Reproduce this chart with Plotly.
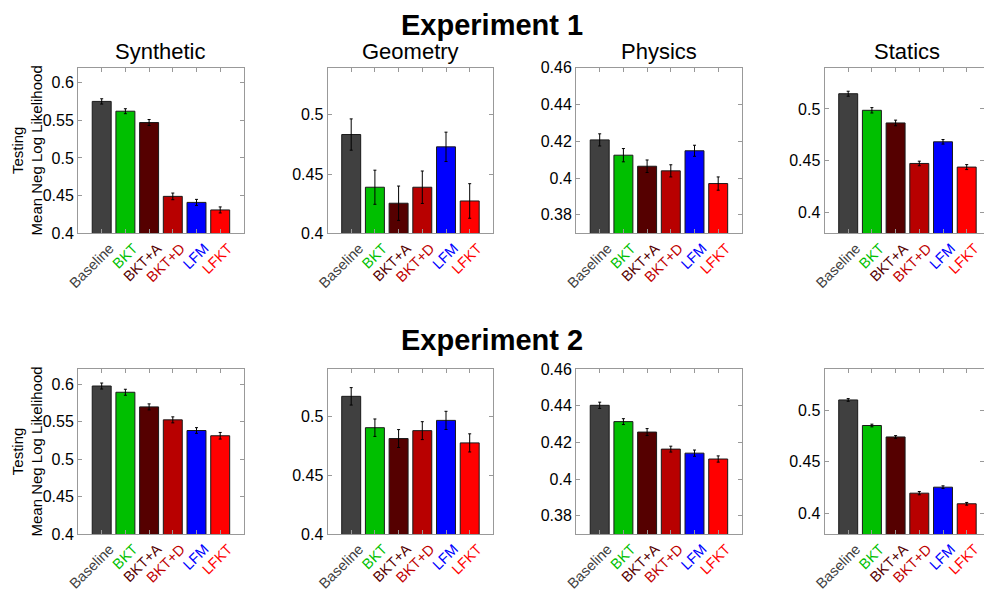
import plotly.graph_objects as go

categories = ["Baseline", "BKT", "BKT+A", "BKT+D", "LFM", "LFKT"]
bar_colors = ["#404040", "#00BF00", "#550000", "#B80000", "#0000FF", "#FF0000"]
label_colors = ["#404040", "#00BF00", "#550000", "#C00000", "#0000FF", "#FF0000"]

panel_names = ["Synthetic", "Geometry", "Physics", "Statics"]

exp1_synthetic = [0.575, 0.562, 0.547, 0.449, 0.441, 0.431]
exp1_synthetic_err = [0.0035, 0.0033, 0.004, 0.0044, 0.004, 0.004]
exp1_geometry = [0.4834, 0.4389, 0.4254, 0.4389, 0.473, 0.4273]
exp1_geometry_err = [0.0132, 0.0144, 0.0145, 0.0137, 0.0124, 0.0146]
exp1_physics = [0.4207, 0.4124, 0.4064, 0.4039, 0.4148, 0.397]
exp1_physics_err = [0.0033, 0.0036, 0.0034, 0.0033, 0.003, 0.0036]
exp1_statics = [0.5147, 0.4987, 0.4865, 0.4474, 0.4683, 0.4439]
exp1_statics_err = [0.0024, 0.0026, 0.0027, 0.0022, 0.0022, 0.0024]

exp2_synthetic = [0.5973, 0.589, 0.5695, 0.5522, 0.538, 0.531]
exp2_synthetic_err = [0.004, 0.004, 0.004, 0.004, 0.0038, 0.0044]
exp2_geometry = [0.5168, 0.4902, 0.481, 0.4877, 0.4964, 0.4773]
exp2_geometry_err = [0.0074, 0.0074, 0.0076, 0.0076, 0.0077, 0.0077]
exp2_physics = [0.4402, 0.4313, 0.4256, 0.4163, 0.4141, 0.4109]
exp2_physics_err = [0.0017, 0.0016, 0.0019, 0.0016, 0.0017, 0.0017]
exp2_statics = [0.51, 0.4852, 0.4741, 0.4196, 0.4254, 0.4093]
exp2_statics_err = [0.0013, 0.0013, 0.0013, 0.0016, 0.0013, 0.0013]

y_ranges = [[0.4, 0.62], [0.4, 0.54], [0.37, 0.46], [0.38, 0.54]]
y_tickvals = [
    [0.4, 0.45, 0.5, 0.55, 0.6],
    [0.4, 0.45, 0.5],
    [0.38, 0.4, 0.42, 0.44, 0.46],
    [0.4, 0.45, 0.5],
]
y_ticktext = [
    ["0.4", "0.45", "0.5", "0.55", "0.6"],
    ["0.4", "0.45", "0.5"],
    ["0.38", "0.4", "0.42", "0.44", "0.46"],
    ["0.4", "0.45", "0.5"],
]
exp_titles = ["Experiment 1", "Experiment 2"]

rows = [
    [(exp1_synthetic, exp1_synthetic_err), (exp1_geometry, exp1_geometry_err),
     (exp1_physics, exp1_physics_err), (exp1_statics, exp1_statics_err)],
    [(exp2_synthetic, exp2_synthetic_err), (exp2_geometry, exp2_geometry_err),
     (exp2_physics, exp2_physics_err), (exp2_statics, exp2_statics_err)],
]

W, H = 984, 591
FONT = "Arial, Liberation Sans, sans-serif"
cat_w = 23.7
panel_left = [78, 327.5, 576, 824.5]
row_top = [67.5, 369]
row_bot = [233.3, 534]

fig = go.Figure()
layout = {}
annotations = []
ticktext_x = ["<span style='color:%s'>%s</span>" % (c, t) for c, t in zip(label_colors, categories)]

idx = 0
for r in range(2):
    for c in range(4):
        idx += 1
        vals, errs = rows[r][c]
        xa = "x" if idx == 1 else "x%d" % idx
        ya = "y" if idx == 1 else "y%d" % idx
        fig.add_trace(go.Bar(
            x=categories, y=vals, xaxis=xa, yaxis=ya,
            marker=dict(color=bar_colors, line=dict(color="#1a1a1a", width=1)),
            width=0.8,
            error_y=dict(type="data", array=errs, color="black", thickness=1, width=1.5),
            showlegend=False,
        ))
        left = panel_left[c]
        right = left + 7 * cat_w
        xmax = 6.0
        if right > W:
            xmax = -1 + (W - left) / cat_w
            right = W
        xdom = [left / W, right / W]
        ydom = [1 - row_bot[r] / H, 1 - row_top[r] / H]
        layout["xaxis" if idx == 1 else "xaxis%d" % idx] = dict(
            domain=xdom, anchor=ya, type="category", range=[-1, xmax],
            tickvals=categories, ticktext=ticktext_x, tickangle=-45,
            ticklabelshift=8,
            ticks="inside", ticklen=4, tickcolor="#999", showline=True,
            linecolor="#999", linewidth=1, mirror="ticks", showgrid=False,
            tickfont=dict(family=FONT, size=14.5), zeroline=False, automargin=False,
        )
        layout["yaxis" if idx == 1 else "yaxis%d" % idx] = dict(
            domain=ydom, anchor=xa, range=y_ranges[c],
            tickvals=y_tickvals[c], ticktext=y_ticktext[c],
            ticks="inside", ticklen=4, tickcolor="#999", showline=True,
            linecolor="#999", linewidth=1, mirror="ticks", showgrid=False,
            tickfont=dict(family=FONT, size=16, color="black"), zeroline=False,
            automargin=False,
        )
        if r == 0:
            annotations.append(dict(
                text=panel_names[c], xref="paper", yref="paper",
                x=((left + left + 7 * cat_w) / 2) / W, y=ydom[1] + 1 / H,
                xanchor="center", yanchor="bottom", showarrow=False,
                font=dict(family=FONT, size=22, color="black"),
            ))
    annotations.append(dict(
        text="Testing<br>Mean Neg Log Likelihood", xref="paper", yref="paper",
        x=27 / W, y=1 - (row_top[r] + row_bot[r]) / 2 / H, textangle=-90,
        xanchor="center", yanchor="middle", showarrow=False,
        font=dict(family=FONT, size=15, color="black"),
    ))

annotations.append(dict(text="<b>Experiment 1</b>", xref="paper", yref="paper",
                        x=492 / W, y=1 - 25 / H, xanchor="center", yanchor="middle",
                        showarrow=False, font=dict(family=FONT, size=29, color="black")))
annotations.append(dict(text="<b>Experiment 2</b>", xref="paper", yref="paper",
                        x=492 / W, y=1 - 340 / H, xanchor="center", yanchor="middle",
                        showarrow=False, font=dict(family=FONT, size=29, color="black")))

fig.update_layout(
    width=W, height=H, margin=dict(l=0, r=0, t=0, b=0, autoexpand=False),
    paper_bgcolor="white", plot_bgcolor="white",
    annotations=annotations, bargap=0.2,
    font=dict(family=FONT),
    **layout,
)
fig.write_html("out.html")
